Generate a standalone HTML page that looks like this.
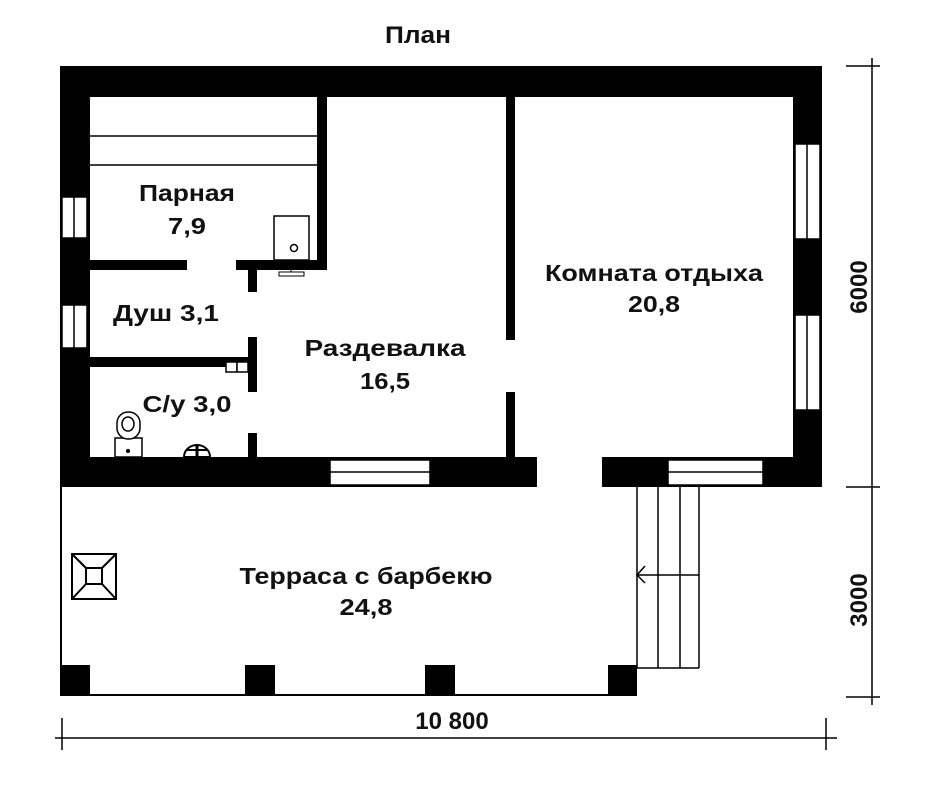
<!DOCTYPE html>
<html><head><meta charset="utf-8"><style>
html,body{margin:0;padding:0;background:#fff;}
svg{display:block;}
text{font-family:"Liberation Sans","DejaVu Sans",sans-serif;font-weight:bold;fill:#111;}
</style></head><body>
<svg width="940" height="797" viewBox="0 0 940 797" xmlns="http://www.w3.org/2000/svg">
<rect width="940" height="797" fill="#fff"/>
<text x="418" y="43" font-size="24" text-anchor="middle" fill="#333" textLength="66" lengthAdjust="spacingAndGlyphs">План</text>
<rect x="60" y="66" width="762" height="31" fill="#000"/>
<rect x="60" y="66" width="30" height="421" fill="#000"/>
<rect x="793" y="66" width="29" height="421" fill="#000"/>
<rect x="60" y="457" width="477" height="30" fill="#000"/>
<rect x="602" y="457" width="220" height="30" fill="#000"/>
<g fill="#fff" stroke="#000" stroke-width="1.5">
<rect x="62" y="197" width="25" height="41"/><line x1="74" y1="197" x2="74" y2="238"/>
<rect x="62" y="305" width="25" height="43"/><line x1="74" y1="305" x2="74" y2="348"/>
<rect x="795" y="144" width="25" height="95"/><line x1="807" y1="144" x2="807" y2="239"/>
<rect x="795" y="315" width="25" height="95"/><line x1="807" y1="315" x2="807" y2="410"/>
<rect x="330" y="460" width="100" height="25"/><line x1="330" y1="472" x2="430" y2="472"/>
<rect x="668" y="460" width="95" height="25"/><line x1="668" y1="472" x2="763" y2="472"/>
</g>
<rect x="317" y="97" width="10" height="173" fill="#000"/>
<rect x="90" y="260" width="97" height="10" fill="#000"/>
<rect x="236" y="260" width="91" height="10" fill="#000"/>
<rect x="248" y="270" width="9" height="22" fill="#000"/>
<rect x="90" y="357" width="160" height="10" fill="#000"/>
<rect x="248" y="337" width="9" height="55" fill="#000"/>
<rect x="248" y="433" width="9" height="24" fill="#000"/>
<rect x="506" y="97" width="9" height="243" fill="#000"/>
<rect x="506" y="392" width="9" height="65" fill="#000"/>
<rect x="226" y="362" width="11" height="10" fill="#fff" stroke="#000" stroke-width="1.5"/>
<rect x="237" y="362" width="11" height="10" fill="#fff" stroke="#000" stroke-width="1.5"/>
<line x1="90" y1="136" x2="317" y2="136" stroke="#000" stroke-width="1.5"/>
<line x1="90" y1="165" x2="317" y2="165" stroke="#000" stroke-width="1.5"/>
<rect x="274" y="216" width="35" height="44" fill="#fff" stroke="#000" stroke-width="1.5"/>
<circle cx="294" cy="248" r="3.5" fill="none" stroke="#000" stroke-width="1.5"/>
<rect x="279" y="272" width="25" height="4" fill="#fff" stroke="#000" stroke-width="1"/>
<line x1="291" y1="270" x2="291" y2="272" stroke="#000"/>
<rect x="115" y="438" width="27" height="19" fill="#fff" stroke="#000" stroke-width="1.5"/>
<circle cx="128" cy="451" r="2" fill="#000"/>
<rect x="117" y="412" width="23" height="27" rx="11" fill="#fff" stroke="#000" stroke-width="1.5"/>
<ellipse cx="128" cy="424" rx="6" ry="7" fill="#fff" stroke="#000" stroke-width="1.5"/>
<path d="M184 457 A13 12 0 0 1 210 457 Z" fill="#fff" stroke="#000" stroke-width="2"/>
<line x1="187" y1="450" x2="207" y2="450" stroke="#000" stroke-width="2"/>
<line x1="197" y1="446" x2="197" y2="457" stroke="#000" stroke-width="3"/>
<line x1="61" y1="487" x2="61" y2="695" stroke="#000" stroke-width="2"/>
<line x1="60" y1="695" x2="637" y2="695" stroke="#000" stroke-width="2"/>
<rect x="60" y="665" width="30" height="31" fill="#000"/>
<rect x="245" y="665" width="30" height="31" fill="#000"/>
<rect x="425" y="665" width="30" height="31" fill="#000"/>
<rect x="608" y="665" width="29" height="31" fill="#000"/>
<g stroke="#000" stroke-width="1.5" fill="none">
<line x1="637" y1="487" x2="637" y2="668"/>
<line x1="658" y1="487" x2="658" y2="668"/>
<line x1="680" y1="487" x2="680" y2="668"/>
<line x1="699" y1="487" x2="699" y2="668"/>
<line x1="637" y1="668" x2="699" y2="668"/>
<line x1="637" y1="575" x2="699" y2="575"/>
<polyline points="645,566 637,575 645,583"/>
</g>
<g stroke="#000" stroke-width="2" fill="none">
<rect x="72" y="554" width="44" height="45"/>
<rect x="86" y="568" width="16" height="16"/>
<line x1="72" y1="554" x2="86" y2="568"/><line x1="116" y1="554" x2="102" y2="568"/>
<line x1="72" y1="599" x2="86" y2="584"/><line x1="116" y1="599" x2="102" y2="584"/>
</g>
<g stroke="#000" stroke-width="1.5">
<line x1="872" y1="58" x2="872" y2="705"/>
<line x1="846" y1="66" x2="880" y2="66"/>
<line x1="846" y1="487" x2="880" y2="487"/>
<line x1="846" y1="697" x2="880" y2="697"/>
<line x1="55" y1="738" x2="837" y2="738"/>
<line x1="62" y1="718" x2="62" y2="750"/>
<line x1="826" y1="718" x2="826" y2="750"/>
</g>
<text font-size="24" text-anchor="middle" transform="translate(867,287) rotate(-90)">6000</text>
<text font-size="24" text-anchor="middle" transform="translate(867,600) rotate(-90)">3000</text>
<text x="452" y="729" font-size="24" text-anchor="middle">10 800</text>
<g font-size="23" text-anchor="middle" lengthAdjust="spacingAndGlyphs">
<text x="187" y="201" textLength="96" lengthAdjust="spacingAndGlyphs">Парная</text>
<text x="187" y="234" textLength="38" lengthAdjust="spacingAndGlyphs">7,9</text>
<text x="166" y="321" textLength="106" lengthAdjust="spacingAndGlyphs">Душ 3,1</text>
<text x="187" y="412" textLength="89" lengthAdjust="spacingAndGlyphs">С/у 3,0</text>
<text x="385" y="356" textLength="161" lengthAdjust="spacingAndGlyphs">Раздевалка</text>
<text x="385" y="389" textLength="50" lengthAdjust="spacingAndGlyphs">16,5</text>
<text x="654" y="281" textLength="218" lengthAdjust="spacingAndGlyphs">Комната отдыха</text>
<text x="654" y="312" textLength="52" lengthAdjust="spacingAndGlyphs">20,8</text>
<text x="366" y="584" textLength="253" lengthAdjust="spacingAndGlyphs">Терраса с барбекю</text>
<text x="366" y="615" textLength="53" lengthAdjust="spacingAndGlyphs">24,8</text>
</g>
</svg>
</body></html>
